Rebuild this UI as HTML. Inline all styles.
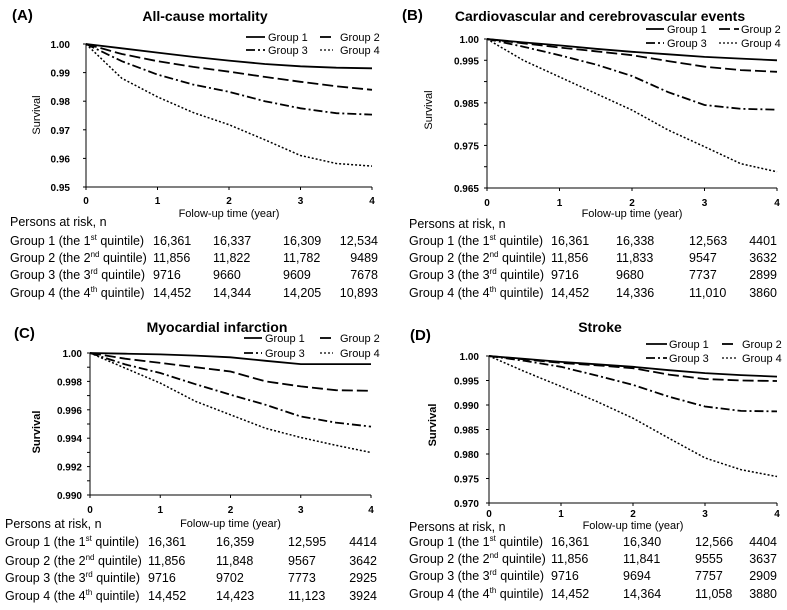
<!DOCTYPE html>
<html><head><meta charset="utf-8">
<style>
html,body{margin:0;padding:0;background:#fff;}
svg{display:block;font-family:"Liberation Sans",Arial,sans-serif;}
</style></head>
<body>
<svg id="fig" width="787" height="610" viewBox="0 0 787 610" xmlns="http://www.w3.org/2000/svg"></svg>
<script>
// ---- Data ----
const timePoints = [0, 0.5, 1, 1.5, 2, 2.5, 3, 3.5, 4];
const xTickLabels = ["0", "1", "2", "3", "4"];
const groupNames = ["Group 1", "Group 2", "Group 3", "Group 4"];
const rowLabels = ["1st", "2nd", "3rd", "4th"];

// Panel A: All-cause mortality
const survA1 = [1, 0.9985, 0.9970, 0.9955, 0.9942, 0.9930, 0.9922, 0.9917, 0.9915];
const survA2 = [1, 0.9965, 0.9940, 0.9920, 0.9903, 0.9885, 0.9868, 0.9852, 0.9840];
const survA3 = [1, 0.9940, 0.9893, 0.9858, 0.9833, 0.9800, 0.9775, 0.9758, 0.9753];
const survA4 = [1, 0.9880, 0.9815, 0.9760, 0.9718, 0.9665, 0.9610, 0.9582, 0.9573];
const yTicksA = [1.00, 0.99, 0.98, 0.97, 0.96, 0.95];
const yTickLabelsA = ["1.00", "0.99", "0.98", "0.97", "0.96", "0.95"];
const riskA = [["16,361","16,337","16,309","12,534"],["11,856","11,822","11,782","9489"],["9716","9660","9609","7678"],["14,452","14,344","14,205","10,893"]];

// Panel B: Cardiovascular and cerebrovascular events
const survB1 = [1, 0.9992, 0.9985, 0.9977, 0.9970, 0.9964, 0.9958, 0.9954, 0.9950];
const survB2 = [1, 0.9990, 0.9980, 0.9971, 0.9962, 0.9948, 0.9935, 0.9927, 0.9923];
const survB3 = [1, 0.9982, 0.9962, 0.9940, 0.9913, 0.9875, 0.9845, 0.9836, 0.9834];
const survB4 = [1, 0.9950, 0.9911, 0.9872, 0.9833, 0.9786, 0.9747, 0.9707, 0.9688];
const yTicksB = [1.000, 0.995, 0.990, 0.985, 0.980, 0.975, 0.970, 0.965];
const yTickLabelsB = ["1.00", "0.995", "", "0.985", "", "0.975", "", "0.965"];
const riskB = [["16,361","16,338","12,563","4401"],["11,856","11,833","9547","3632"],["9716","9680","7737","2899"],["14,452","14,336","11,010","3860"]];

// Panel C: Myocardial infarction
const survC1 = [1, 0.99995, 0.9999, 0.99982, 0.9997, 0.99945, 0.99922, 0.99922, 0.99922];
const survC2 = [1, 0.9996, 0.9993, 0.9990, 0.9987, 0.9980, 0.99765, 0.99738, 0.99734];
const survC3 = [1, 0.9992, 0.99859, 0.9978, 0.99706, 0.99635, 0.99553, 0.9951, 0.99482];
const survC4 = [1, 0.99894, 0.99788, 0.9966, 0.99565, 0.9947, 0.99405, 0.9935, 0.99299];
const yTicksC = [1.000, 0.999, 0.998, 0.997, 0.996, 0.995, 0.994, 0.993, 0.992, 0.991, 0.990];
const yTickLabelsC = ["1.00", "", "0.998", "", "0.996", "", "0.994", "", "0.992", "", "0.990"];
const riskC = [["16,361","16,359","12,595","4414"],["11,856","11,848","9567","3642"],["9716","9702","7773","2925"],["14,452","14,423","11,123","3924"]];

// Panel D: Stroke
const survD1 = [1, 0.9994, 0.9988, 0.9983, 0.9978, 0.9971, 0.9965, 0.9961, 0.9958];
const survD2 = [1, 0.9993, 0.9986, 0.9981, 0.9975, 0.9962, 0.9953, 0.9950, 0.9949];
const survD3 = [1, 0.9990, 0.9978, 0.9960, 0.9941, 0.9917, 0.9897, 0.9888, 0.9887];
const survD4 = [1, 0.9968, 0.9938, 0.9907, 0.9873, 0.9832, 0.9792, 0.9768, 0.9754];
const yTicksD = [1.000, 0.995, 0.990, 0.985, 0.980, 0.975, 0.970];
const yTickLabelsD = ["1.00", "0.995", "0.990", "0.985", "0.980", "0.975", "0.970"];
const riskD = [["16,361","16,340","12,566","4404"],["11,856","11,841","9555","3637"],["9716","9694","7757","2909"],["14,452","14,364","11,058","3880"]];

// ---- Layout ----
const NS = "http://www.w3.org/2000/svg";
const svg = document.getElementById("fig");
const dashes = [null, "11,4", "9,3,2,3", "2,2"];
function mk(tag, attrs, parent, text) {
  const e = document.createElementNS(NS, tag);
  for (const k in attrs) e.setAttribute(k, attrs[k]);
  if (text !== undefined) e.textContent = text;
  (parent || svg).appendChild(e);
  return e;
}
const panels = [
  {id:"a", letter:"(A)", lx:12, ly:20, title:"All-cause mortality", tx:205, ty:21,
   x0:86, x1:372, yTop:44, yBot:187, ymax:1.00, ymin:0.95, ticks:yTicksA, tlabels:yTickLabelsA, tlr:70,
   series:[survA1,survA2,survA3,survA4], ylx:40, yly:115, ylBold:false,
   leg:{y1:41, y2:54, l1:[246,265], t1:268, l2:[320,333], t2:340},
   xlabY:204, axTitleY:217, persY:226, rowsY:[245,262,279,297], labX:10, colX:[153,213,283,378], risk:riskA},
  {id:"b", letter:"(B)", lx:402, ly:20, title:"Cardiovascular and cerebrovascular events", tx:600, ty:21,
   x0:487, x1:777, yTop:39, yBot:188, ymax:1.00, ymin:0.965, ticks:yTicksB, tlabels:yTickLabelsB, tlr:479,
   series:[survB1,survB2,survB3,survB4], ylx:432, yly:110, ylBold:false,
   leg:{y1:33, y2:47, l1:[646,664], t1:667, l2:[719,739], t2:741},
   xlabY:206, axTitleY:217, persY:228, rowsY:[245,262,279,297], labX:409, colX:[551,616,689,777], risk:riskB},
  {id:"c", letter:"(C)", lx:14, ly:338, title:"Myocardial infarction", tx:217, ty:332,
   x0:90, x1:371, yTop:353, yBot:495, ymax:1.00, ymin:0.990, ticks:yTicksC, tlabels:yTickLabelsC, tlr:82,
   series:[survC1,survC2,survC3,survC4], ylx:40, yly:432, ylBold:true,
   leg:{y1:342, y2:357, l1:[244,262], t1:265, l2:[320,333], t2:340},
   xlabY:513, axTitleY:527, persY:528, rowsY:[546,565,582,600], labX:5, colX:[148,216,288,377], risk:riskC},
  {id:"d", letter:"(D)", lx:410, ly:340, title:"Stroke", tx:600, ty:332,
   x0:489, x1:777, yTop:356, yBot:503, ymax:1.00, ymin:0.970, ticks:yTicksD, tlabels:yTickLabelsD, tlr:479,
   series:[survD1,survD2,survD3,survD4], ylx:436, yly:425, ylBold:true,
   leg:{y1:348, y2:362, l1:[646,667], t1:669, l2:[722,737], t2:742},
   xlabY:517, axTitleY:529, persY:531, rowsY:[546,563,580,598], labX:409, colX:[551,623,695,777], risk:riskD}
];

panels.forEach(p => {
  const g = mk("g", {});
  
  
  const xs = t => p.x0 + (t / 4) * (p.x1 - p.x0);
  const ys = v => p.yTop + (p.ymax - v) / (p.ymax - p.ymin) * (p.yBot - p.yTop);

  const lt = mk("text", {x:p.lx, y:p.ly, "font-size":15, "font-weight":"bold"}, g, p.letter);
  
  
  const tt = mk("text", {x:p.tx, y:p.ty, "font-size":14, "font-weight":"bold", "text-anchor":"middle"}, g, p.title);
  
  

  const ax = mk("path", {d:`M${p.x0},${p.yTop}V${p.yBot}H${p.x1}`, stroke:"#000", "stroke-width":1, fill:"none"}, g);
  
  
  p.ticks.forEach((v, i) => {
    const y = ys(v);
    mk("line", {x1:p.x0-3, x2:p.x0, y1:y, y2:y, stroke:"#000", "stroke-width":1}, g);
    if (p.tlabels[i]) {
      const t = mk("text", {x:p.tlr, y:y+4, "font-size":10, "font-weight":"bold", "text-anchor":"end"}, g, p.tlabels[i]);
      
      
    }
  });
  xTickLabels.forEach((lab, i) => {
    const x = xs(i);
    mk("line", {x1:x, x2:x, y1:p.yBot, y2:p.yBot+3, stroke:"#000", "stroke-width":1}, g);
    const t = mk("text", {x:x, y:p.xlabY, "font-size":10, "font-weight":"bold", "text-anchor":"middle"}, g, lab);
    
    
  });
  const yl = mk("text", {x:p.ylx, y:p.yly, "font-size":11, "font-weight":p.ylBold?"bold":"normal", "text-anchor":"middle", transform:`rotate(-90 ${p.ylx} ${p.yly})`}, g, "Survival");
  
  
  const xl = mk("text", {x:(p.x0+p.x1)/2, y:p.axTitleY, "font-size":11, "text-anchor":"middle"}, g, "Folow-up time (year)");
  
  

  p.series.forEach((s, k) => {
    const d = s.map((v, i) => (i ? "L" : "M") + xs(timePoints[i]).toFixed(1) + "," + ys(v).toFixed(1)).join("");
    const attrs = {d:d, fill:"none", stroke:"#000", "stroke-width":k==3?1.5:1.8};
    if (dashes[k]) attrs["stroke-dasharray"] = dashes[k];
    const path = mk("path", attrs, g);
    
    
  });

  const L = p.leg;
  [[L.l1, L.t1, L.y1], [L.l2, L.t2, L.y1], [L.l1, L.t1, L.y2], [L.l2, L.t2, L.y2]].forEach((e, k) => {
    const ln = {x1:e[0][0], x2:e[0][1], y1:e[2]-4, y2:e[2]-4, stroke:"#000", "stroke-width":k==3?1.3:1.8};
    if (dashes[k]) ln["stroke-dasharray"] = dashes[k];
    const l = mk("line", ln, g);
    
    
    const t = mk("text", {x:e[1], y:e[2], "font-size":11}, g, groupNames[k]);
    
    
  });

  const pr = mk("text", {x:p.labX, y:p.persY, "font-size":12.5}, g, "Persons at risk, n");
  
  
  p.risk.forEach((row, r) => {
    const y = p.rowsY[r];
    const lab = mk("text", {x:p.labX, y:y, "font-size":12.5}, g);
    
    
    const num = rowLabels[r].replace(/\D/g, ""), suf = rowLabels[r].replace(/\d/g, "");
    mk("tspan", {}, lab, `Group ${r+1} (the ${num}`);
    mk("tspan", {dy:-5, "font-size":8}, lab, suf);
    mk("tspan", {dy:5}, lab, " quintile)");
    row.forEach((v, c) => {
      const last = c == 3;
      const t = mk("text", {x:p.colX[c], y:y, "font-size":12.5, "text-anchor": last ? "end" : "start"}, g, v);
      
      
    });
  });
});
</script>
</body></html>
